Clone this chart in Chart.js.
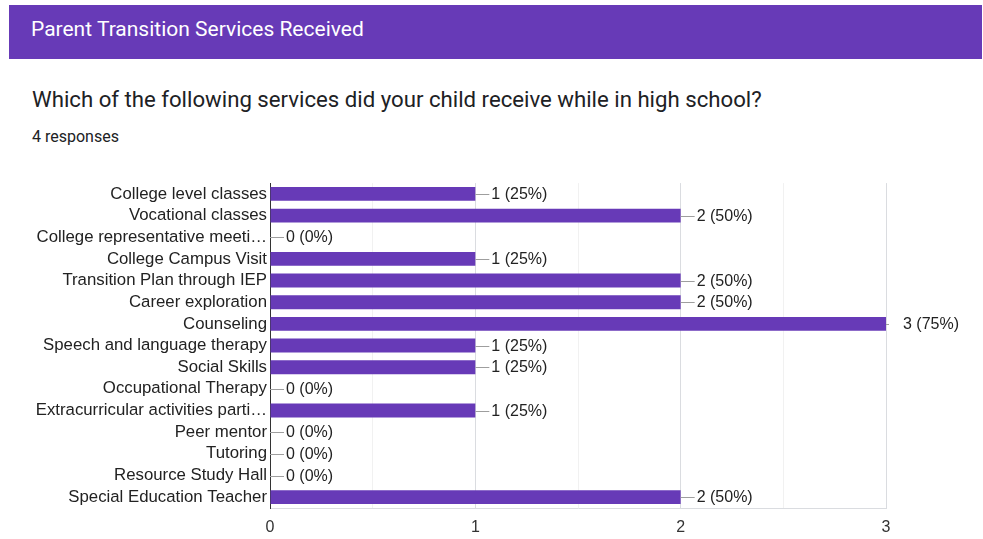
<!DOCTYPE html>
<html>
<head>
<meta charset="utf-8">
<script src="https://cdn.jsdelivr.net/npm/chart.js@4"></script>
<style>
  body { margin: 0; width: 983px; height: 539px; background: #fff; position: relative; overflow: hidden; font-family: Roboto, "Liberation Sans", sans-serif; }
  .header { position: absolute; left: 9px; top: 5px; width: 973px; height: 54px; background: #673ab7; }
  .header span { position: absolute; left: 22px; top: 12px; color: #fff; font-size: 21px; }
  .question { position: absolute; left: 32px; top: 86px; font-size: 22.2px; color: #202124; }
  .responses { position: absolute; left: 32px; top: 127px; font-size: 16px; color: #202124; }
  .chart-box { position: absolute; left: 0; top: 170px; width: 983px; height: 369px; }
</style>
</head>
<body>
<div class="header"><span>Parent Transition Services Received</span></div>
<div class="question">Which of the following services did your child receive while in high school?</div>
<div class="responses">4 responses</div>
<div class="chart-box"><canvas id="chart"></canvas></div>
<script>
const categories = [
  'College level classes',
  'Vocational classes',
  'College representative meeti\u2026',
  'College Campus Visit',
  'Transition Plan through IEP',
  'Career exploration',
  'Counseling',
  'Speech and language therapy',
  'Social Skills',
  'Occupational Therapy',
  'Extracurricular activities parti\u2026',
  'Peer mentor',
  'Tutoring',
  'Resource Study Hall',
  'Special Education Teacher'
];
const counts = [1, 2, 0, 1, 2, 2, 3, 1, 1, 0, 1, 0, 0, 0, 2];
const totalResponses = 4;
const xTicks = [0, 1, 2, 3];

const PURPLE = '#673ab7';
const FONT = '"Liberation Sans", Arial, sans-serif';

// leader line + "n (pct%)" label after each bar
const barLabels = {
  id: 'barLabels',
  afterDatasetsDraw(chart) {
    const ctx = chart.ctx;
    const meta = chart.getDatasetMeta(0);
    const maxVal = Math.max(...counts);
    ctx.save();
    ctx.font = '16px ' + FONT;
    ctx.textBaseline = 'middle';
    meta.data.forEach((bar, i) => {
      const v = counts[i];
      const text = v + ' (' + Math.round(v / totalResponses * 100) + '%)';
      const x = bar.x, y = Math.round(bar.y);
      const top = v === maxVal;
      ctx.strokeStyle = '#9e9e9e';
      ctx.lineWidth = 1;
      ctx.beginPath();
      ctx.moveTo(x, y + 0.5);
      ctx.lineTo(x + (top ? 3 : 14), y + 0.5);
      ctx.stroke();
      ctx.fillStyle = '#222';
      ctx.fillText(text, x + (top ? 17 : 16), y + 1);
    });
    ctx.restore();
  }
};

new Chart(document.getElementById('chart'), {
  type: 'bar',
  data: {
    labels: categories,
    datasets: [{
      data: counts,
      backgroundColor: PURPLE,
      borderWidth: 0,
      barPercentage: 0.8,
      categoryPercentage: 0.8
    }]
  },
  options: {
    indexAxis: 'y',
    responsive: true,
    maintainAspectRatio: false,
    animation: false,
    layout: { padding: { top: 10, right: 97, bottom: 0, left: 0 } },
    plugins: { legend: { display: false }, tooltip: { enabled: false } },
    scales: {
      x: {
        min: 0, max: 3,
        afterFit: s => { s.height = 31; },
        afterBuildTicks: s => {
          const t = [];
          for (let v = 0; v <= 3; v += 0.5) t.push({ value: v });
          s.ticks = t;
        },
        ticks: {
          padding: 10,
          color: '#333',
          font: { family: FONT, size: 16 },
          autoSkip: false,
          maxRotation: 0,
          callback: v => xTicks.includes(v) ? String(v) : ''
        },
        grid: {
          drawTicks: false,
          color: c => Number.isInteger(c.tick.value) ? '#dadce0' : '#f1f1f1'
        },
        border: { display: true, color: '#dadce0' }
      },
      y: {
        afterFit: s => { s.width = 270; },
        ticks: {
          padding: 3,
          autoSkip: false,
          color: '#222',
          font: { family: FONT, size: 16.8 }
        },
        grid: { display: false, drawTicks: false },
        border: { display: true, color: '#333', width: 1 }
      }
    }
  },
  plugins: [barLabels]
});
</script>
</body>
</html>
